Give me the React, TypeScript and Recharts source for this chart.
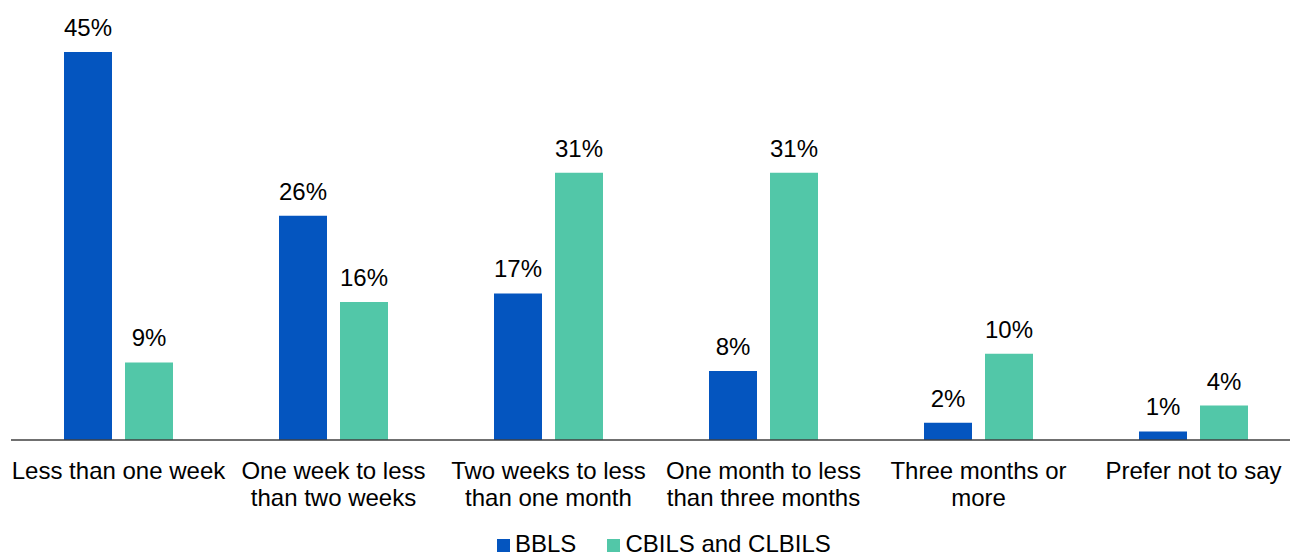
import { Bar, BarChart, LabelList, Legend, XAxis, YAxis } from "recharts";

const categories = [
  "Less than one week",
  "One week to less\nthan two weeks",
  "Two weeks to less\nthan one month",
  "One month to less\nthan three months",
  "Three months or\nmore",
  "Prefer not to say",
];
const bbls = [45, 26, 17, 8, 2, 1];
const cbils = [9, 16, 31, 31, 10, 4];

const BLUE = "#0455BF";
const TEAL = "#52C7A8";
const FONT = "'Liberation Sans', Arial, sans-serif";

const data = categories.map((name, i) => ({ name, bbls: bbls[i], cbils: cbils[i] }));

function Tick({ x, y, payload }: any) {
  const lines = String(payload.value).split("\n");
  return (
    <text x={x} y={y} textAnchor="middle" fontSize={24} fontFamily={FONT} fill="#000">
      {lines.map((l, i) => (
        <tspan key={i} x={x} dy={i === 0 ? 38.5 : 27.5}>
          {l}
        </tspan>
      ))}
    </text>
  );
}

function LegendBox() {
  const items = [
    { label: "BBLS", color: BLUE },
    { label: "CBILS and CLBILS", color: TEAL },
  ];
  return (
    <div
      style={{
        display: "flex",
        gap: 31,
        fontFamily: FONT,
        fontSize: 24,
        lineHeight: "26px",
        color: "#000",
        paddingLeft: 497,
        marginTop: 16,
      }}
    >
      {items.map((it) => (
        <span key={it.label} style={{ display: "flex", alignItems: "center" }}>
          <span
            style={{ width: 13, height: 13, background: it.color, marginRight: 5, marginTop: 3, display: "inline-block" }}
          />
          {it.label}
        </span>
      ))}
    </div>
  );
}

export default function App() {
  return (
    <div style={{ position: "absolute", left: 0, top: 0, width: 1290, height: 558, overflow: "hidden", background: "#fff" }}>
      <BarChart
        width={1301}
        height={558}
        data={data}
        margin={{ top: 52, right: 0, bottom: 0, left: 11 }}
        barSize={48}
        barGap={13}
      >
        <XAxis
          dataKey="name"
          interval={0}
          tickLine={false}
          tickSize={0}
          tickMargin={0}
          height={75}
          axisLine={{ stroke: "#404040", strokeWidth: 1.5 }}
          tick={<Tick />}
        />
        <YAxis hide domain={[0, 45]} />
        <Legend
          verticalAlign="bottom"
          align="left"
          height={43}
          wrapperStyle={{ left: 0, width: 1290 }}
          content={<LegendBox />}
        />
        <Bar dataKey="bbls" fill={BLUE} isAnimationActive={false}>
          <LabelList
            dataKey="bbls"
            position="top"
            offset={16}
            formatter={(v: any) => `${v}%`}
            style={{ fontSize: 24, fontFamily: FONT, fill: "#000" }}
          />
        </Bar>
        <Bar dataKey="cbils" fill={TEAL} isAnimationActive={false}>
          <LabelList
            dataKey="cbils"
            position="top"
            offset={16}
            formatter={(v: any) => `${v}%`}
            style={{ fontSize: 24, fontFamily: FONT, fill: "#000" }}
          />
        </Bar>
      </BarChart>
    </div>
  );
}
